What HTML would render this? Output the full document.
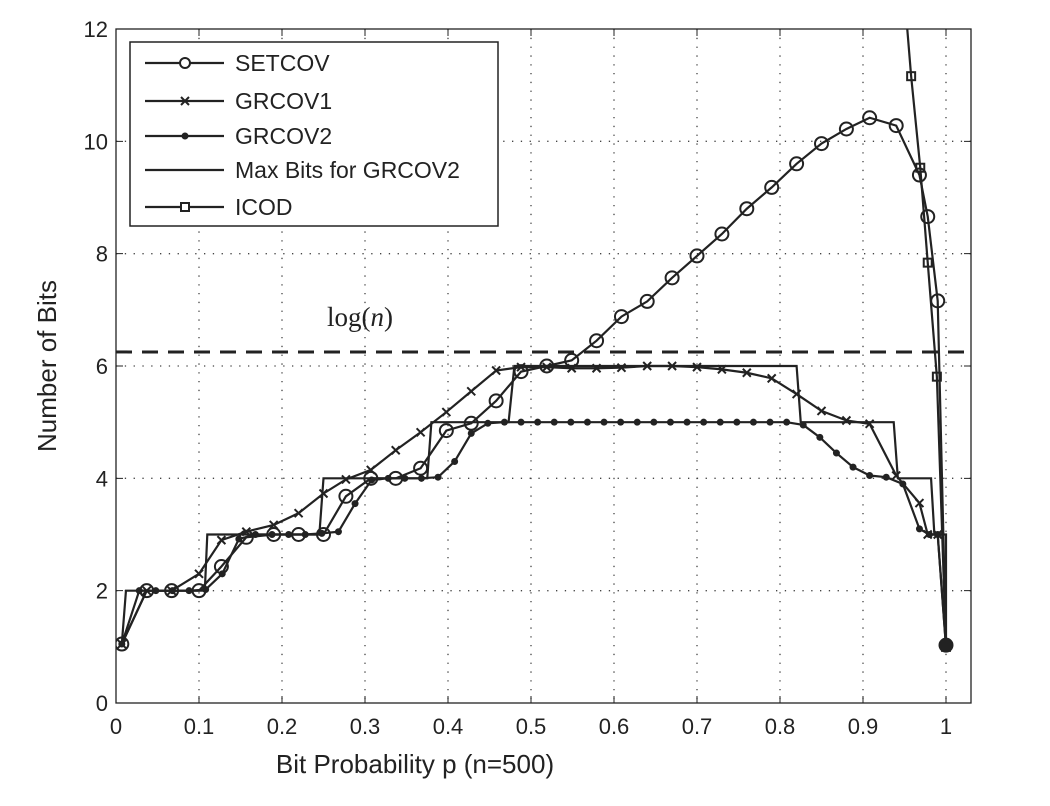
<!DOCTYPE html>
<html><head><meta charset="utf-8"><style>
body{margin:0;background:#fff;}
svg{display:block;font-family:"Liberation Sans",sans-serif;}
</style></head><body>
<svg id="chart" width="1050" height="806" viewBox="0 0 1050 806">
<g id="grid"></g>
<g id="series"></g>
<g id="axes"></g>
<text x="360" y="326" font-family="Liberation Serif,serif" font-size="27" text-anchor="middle" fill="#222">log(<tspan font-style="italic">n</tspan>)</text>
<text x="415" y="773" font-size="26" text-anchor="middle" fill="#222">Bit Probability p (n=500)</text>
<text transform="translate(56,366) rotate(-90)" font-size="26" text-anchor="middle" fill="#222">Number of Bits</text>
<g id="legend"></g>
</svg>
<script>
const xTicks=[0,0.1,0.2,0.3,0.4,0.5,0.6,0.7,0.8,0.9,1];
const xTickLabels=["0","0.1","0.2","0.3","0.4","0.5","0.6","0.7","0.8","0.9","1"];
const yTicks=[0,2,4,6,8,10,12];
const yTickLabels=["0","2","4","6","8","10","12"];
const logN=6.25;
const setcovP=[0.007,0.037,0.067,0.1,0.127,0.157,0.19,0.22,0.25,0.277,0.307,0.337,0.367,0.398,0.428,0.458,0.488,0.519,0.549,0.579,0.609,0.64,0.67,0.70,0.73,0.76,0.79,0.82,0.85,0.88,0.908,0.94,0.968,0.978,0.99,1.0];
const setcovV=[1.05,2,2,2,2.43,2.95,3.0,3.0,3.0,3.68,4.0,4.0,4.18,4.85,4.98,5.38,5.9,6.0,6.1,6.45,6.88,7.15,7.57,7.96,8.35,8.8,9.18,9.6,9.96,10.22,10.42,10.28,9.4,8.66,7.16,1.03];
const grcov1P=[0.007,0.037,0.067,0.1,0.127,0.157,0.19,0.22,0.25,0.277,0.307,0.337,0.367,0.398,0.428,0.458,0.488,0.519,0.549,0.579,0.609,0.64,0.67,0.70,0.73,0.76,0.79,0.82,0.85,0.88,0.908,0.94,0.968,0.978,0.99,1.0];
const grcov1V=[1.05,2,2,2.3,2.9,3.05,3.17,3.38,3.73,3.98,4.15,4.5,4.82,5.18,5.55,5.92,5.98,5.98,5.96,5.96,5.97,6.0,6.0,5.98,5.94,5.88,5.78,5.5,5.2,5.03,4.97,4.05,3.56,3.0,3.0,1.0];
const grcov2P=[0.007,0.028,0.048,0.068,0.088,0.108,0.128,0.148,0.168,0.188,0.208,0.228,0.248,0.268,0.288,0.308,0.328,0.348,0.368,0.388,0.408,0.428,0.448,0.468,0.488,0.508,0.528,0.548,0.568,0.588,0.608,0.628,0.648,0.668,0.688,0.708,0.728,0.748,0.768,0.788,0.808,0.828,0.848,0.868,0.888,0.908,0.928,0.948,0.968,0.98,0.99,1.0];
const grcov2V=[1.05,2,2,2,2,2.02,2.3,2.92,3.0,3.0,3.0,3.0,3.02,3.05,3.55,3.97,4.0,4.0,4.0,4.02,4.3,4.8,4.98,5,5,5,5,5,5,5,5,5,5,5,5,5,5,5,5,5,5,4.95,4.73,4.45,4.2,4.05,4.02,3.9,3.1,3.0,3.0,1.0];
const maxP=[0.007,0.012,0.107,0.110,0.245,0.25,0.375,0.38,0.473,0.48,0.82,0.825,0.937,0.942,0.982,0.986,1.0,1.0];
const maxV=[1.05,2,2,3,3,4,4,5,5,6,6,5,5,4,4,3,3,1];
const icodP=[0.95,0.958,0.969,0.978,0.989,1.0];
const icodV=[12.6,11.16,9.53,7.84,5.81,1.0];

const X0=116,X1=946,XR=971,Y0=703,YT=29;
const sx=p=>X0+(X1-X0)*p;
const sy=v=>Y0-(Y0-YT)*v/12;
const NS="http://www.w3.org/2000/svg";
function mk(tag,attrs,parent){const e=document.createElementNS(NS,tag);for(const k in attrs)e.setAttribute(k,attrs[k]);parent.appendChild(e);return e;}
const grid=document.getElementById('grid'),axes=document.getElementById('axes'),ser=document.getElementById('series'),leg=document.getElementById('legend');
const C="#222";
xTicks.forEach((t,i)=>{
  if(t>0&&t<1.03){const g=mk('line',{x1:sx(t),x2:sx(t),y1:YT,y2:Y0,stroke:'#444','stroke-width':1.3,'stroke-dasharray':'1.3 7.5'},grid);
  
  }
  const tk=mk('path',{d:`M${sx(t)},${Y0}v-7M${sx(t)},${YT}v7`,stroke:C,'stroke-width':1},axes);
  
  
  const tl=mk('text',{x:sx(t),y:Y0+31,'font-size':22,'text-anchor':'middle',fill:C},axes);tl.textContent=xTickLabels[i];
  
  
});
yTicks.forEach((t,i)=>{
  if(t>0&&t<12){const g=mk('line',{x1:X0,x2:XR,y1:sy(t),y2:sy(t),stroke:'#444','stroke-width':1.3,'stroke-dasharray':'1.3 7.5'},grid);
  
  }
  const tk=mk('path',{d:`M${X0},${sy(t)}h7M${XR},${sy(t)}h-7`,stroke:C,'stroke-width':1},axes);
  
  
  const tl=mk('text',{x:X0-8,y:sy(t)+8,'font-size':22,'text-anchor':'end',fill:C},axes);tl.textContent=yTickLabels[i];
  
  
});
const box=mk('rect',{x:X0,y:YT,width:XR-X0,height:Y0-YT,fill:'none',stroke:C,'stroke-width':1.3},axes);


const dl=mk('line',{x1:X0,x2:XR,y1:sy(logN),y2:sy(logN),stroke:C,'stroke-width':3,'stroke-dasharray':'16 10'},ser);


const defs=mk('defs',{},ser);const cp=mk('clipPath',{id:'clip'},defs);mk('rect',{x:X0,y:YT,width:XR-X0,height:Y0-YT},cp);
function marker(type,x,y,g,big){
  let m;
  if(type==='o')m=mk('circle',{cx:x,cy:y,r:big?7:6.5,fill:'none',stroke:C,'stroke-width':2},g);
  else if(type==='x')m=mk('path',{d:`M${x-4},${y-4}L${x+4},${y+4}M${x-4},${y+4}L${x+4},${y-4}`,stroke:C,'stroke-width':2},g);
  else if(type==='.')m=mk('circle',{cx:x,cy:y,r:big?6:3.5,fill:C},g);
  else if(type==='s')m=mk('rect',{x:x-4,y:y-4,width:8,height:8,fill:'none',stroke:C,'stroke-width':2},g);
  return m;
}
function series(P,V,type,name){
  const g=mk('g',{'clip-path':'url(#clip)'},ser);
  
  
  const pl=mk('polyline',{points:P.map((p,i)=>sx(p)+','+sy(V[i])).join(' '),fill:'none',stroke:C,'stroke-width':2.2},g);
  
  
  if(type)P.forEach((p,i)=>{const m=marker(type,sx(p),sy(V[i]),g,false);
    
    });
}
series(maxP,maxV,null,'max-bits-series');
series(icodP,icodV,'s','icod-series');
series(grcov2P,grcov2V,'.','grcov2-series');
series(grcov1P,grcov1V,'x','grcov1-series');
series(setcovP,setcovV,'o','setcov-series');
const endDot=marker('.',sx(1),sy(1.03),ser,true);


// legend
const lb=mk('rect',{x:130,y:42,width:368,height:184,fill:'#fff',stroke:C,'stroke-width':1.5},leg);


const legNames=["SETCOV","GRCOV1","GRCOV2","Max Bits for GRCOV2","ICOD"];
const legTypes=['o','x','.',null,'s'];
const legY=[63,101,136,170,207];
legNames.forEach((n,i)=>{
  const g=mk('g',{},leg);
  
  
  mk('line',{x1:145,x2:224,y1:legY[i],y2:legY[i],stroke:C,'stroke-width':2.2},g);
  if(legTypes[i]){const m=legTypes[i]==='o'?mk('circle',{cx:185,cy:legY[i],r:5,fill:'#fff',stroke:C,'stroke-width':2},g):legTypes[i]==='s'?mk('rect',{x:181,y:legY[i]-4,width:8,height:8,fill:'#fff',stroke:C,'stroke-width':2},g):marker(legTypes[i],185,legY[i],g,false);}
  const t=mk('text',{x:235,y:legY[i]+8,'font-size':23,fill:C},g);t.textContent=n;
});
</script>
</body></html>
